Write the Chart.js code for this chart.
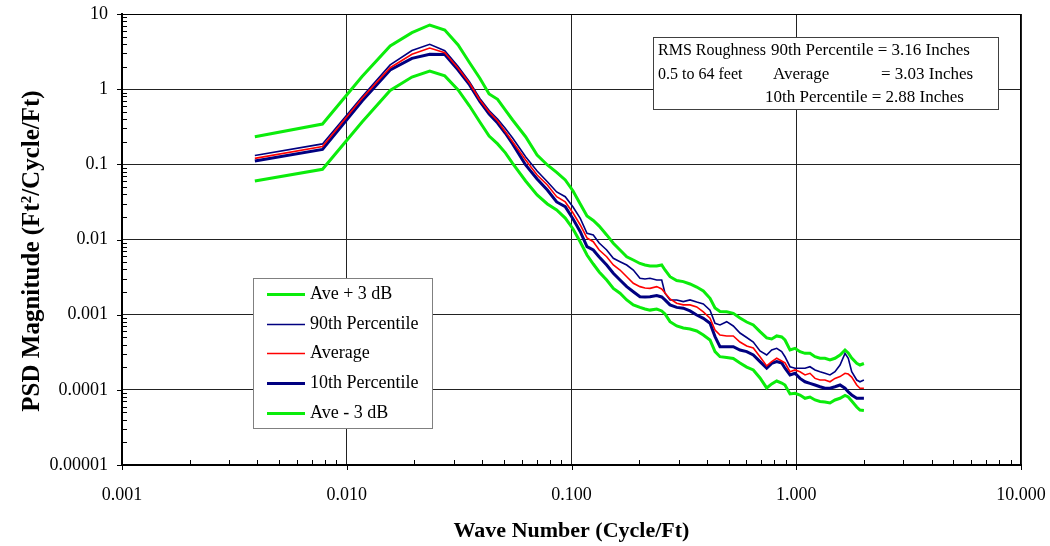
<!DOCTYPE html>
<html>
<head>
<meta charset="utf-8">
<script src="https://cdn.jsdelivr.net/npm/chart.js@4.4.0/dist/chart.umd.min.js"></script>
<style>
  html,body{margin:0;padding:0;background:#fff}
  canvas{display:block}
</style>
</head>
<body>
<canvas id="psd" width="1050" height="546"></canvas>
<script>
// wave number, cycle/ft
const waveNumber = [0.0039,0.0078,0.0117,0.0156,0.0195,0.0234,0.0273,0.0313,0.0352,0.0391,0.0430,0.0469,
  0.0508,0.0547,0.0625,0.0703,0.0781,0.0859,0.0938,0.1016,0.1094,0.1172,0.1250,0.1328,
  0.1434,0.1535,0.1644,0.1761,0.1884,0.2017,0.2123,0.2235,0.2394,0.2520,0.2606,0.2744,
  0.2938,0.3144,0.3368,0.3607,0.3860,0.4134,0.4351,0.4578,0.4903,0.5246,0.5619,0.6019,
  0.6440,0.6898,0.7387,0.7775,0.8185,0.8615,0.8911,0.9380,0.9872,1.039,1.094,1.151,
  1.212,1.276,1.342,1.413,1.487,1.566,1.648,1.704,1.765,1.858,1.921,2.000];

const avePlus3 = [0.233,0.344,1.47,3.75,5.64,7.14,6.12,3.87,2.25,1.40,0.862,0.733,
  0.528,0.389,0.233,0.133,0.098,0.078,0.0619,0.0442,0.0297,0.0206,0.0179,0.0151,
  0.0115,0.00890,0.00725,0.00590,0.00534,0.00480,0.00458,0.00444,0.00444,0.00458,0.00393,0.00320,
  0.00285,0.00275,0.00256,0.00233,0.00207,0.00165,0.00123,0.00110,0.00109,0.00104,0.000903,0.000799,
  0.000729,0.000594,0.000490,0.000475,0.000521,0.000505,0.000460,0.000339,0.000357,0.000322,0.000306,0.000306,
  0.000276,0.000263,0.000263,0.000250,0.000263,0.000291,0.000339,0.000309,0.000265,0.000225,0.000214,0.000224];

const pct90 = [0.131,0.187,0.794,2.10,3.27,3.95,3.25,2.00,1.25,0.751,0.520,0.401,
  0.300,0.224,0.126,0.0815,0.0587,0.0429,0.0371,0.0271,0.0191,0.0121,0.0115,0.00899,
  0.00725,0.00562,0.00507,0.00458,0.00393,0.00305,0.00298,0.00305,0.00289,0.00289,0.00193,0.00157,
  0.00157,0.00149,0.00157,0.00147,0.00139,0.00115,0.000768,0.000729,0.000807,0.000707,0.000570,0.000497,
  0.000433,0.000329,0.000291,0.000339,0.000357,0.000322,0.000276,0.000203,0.000194,0.000194,0.000194,0.000203,
  0.000184,0.000174,0.000166,0.000158,0.000174,0.000214,0.000306,0.000263,0.000174,0.000135,0.000128,0.000135];

const average = [0.120,0.172,0.756,1.93,2.91,3.53,3.06,1.90,1.20,0.718,0.497,0.377,
  0.272,0.200,0.114,0.0722,0.0531,0.0371,0.0316,0.0225,0.0156,0.0105,0.00935,0.00725,
  0.00590,0.00458,0.00393,0.00320,0.00262,0.00236,0.00226,0.00224,0.00236,0.00220,0.00194,0.00162,
  0.00142,0.00135,0.00135,0.00127,0.00109,0.000895,0.000626,0.000537,0.000521,0.000521,0.000433,0.000383,
  0.000360,0.000276,0.000208,0.000237,0.000263,0.000242,0.000228,0.000174,0.000184,0.000174,0.000158,0.000166,
  0.000142,0.000135,0.000135,0.000128,0.000142,0.000150,0.000166,0.000162,0.000148,0.000116,0.000105,0.000105];

const pct10 = [0.111,0.158,0.696,1.80,2.57,2.91,2.89,1.80,1.14,0.685,0.467,0.355,
  0.259,0.187,0.098,0.0638,0.0456,0.0316,0.0273,0.0187,0.0127,0.00802,0.00725,0.00585,
  0.00458,0.00355,0.00289,0.00236,0.00202,0.00173,0.00172,0.00173,0.00180,0.00172,0.00157,0.00135,
  0.00125,0.00122,0.00112,0.00099,0.000895,0.000768,0.000510,0.000375,0.000375,0.000375,0.000339,0.000322,
  0.000291,0.000237,0.000194,0.000225,0.000237,0.000228,0.000194,0.000158,0.000166,0.000142,0.000128,0.000122,
  0.000116,0.000110,0.000105,0.000105,0.000110,0.000116,0.000105,0.0000936,0.0000854,0.0000772,0.0000772,0.0000772];

const aveMinus3 = [0.0600,0.0859,0.366,0.960,1.45,1.74,1.50,0.975,0.597,0.366,0.238,0.187,
  0.142,0.103,0.0600,0.0391,0.0297,0.0247,0.0193,0.0138,0.00927,0.00622,0.00472,0.00370,
  0.00289,0.00224,0.00193,0.00157,0.00135,0.00125,0.00119,0.00115,0.00119,0.00112,0.00102,0.000807,
  0.000707,0.000665,0.000645,0.000607,0.000537,0.000460,0.000322,0.000276,0.000269,0.000261,0.000228,0.000201,
  0.000184,0.000144,0.000106,0.000120,0.000131,0.000123,0.000116,0.0000881,0.0000900,0.0000854,0.0000772,0.0000803,
  0.0000733,0.0000700,0.0000689,0.0000668,0.0000733,0.0000772,0.0000841,0.0000803,0.0000711,0.0000591,0.0000539,0.0000531];

const seriesLabels = ['Ave + 3 dB', '90th Percentile', 'Average', '10th Percentile', 'Ave - 3 dB'];

const xTickValues = [0.001, 0.01, 0.1, 1, 10];
const xTickLabels = ['0.001', '0.010', '0.100', '1.000', '10.000'];
const yTickValues = [0.00001, 0.0001, 0.001, 0.01, 0.1, 1, 10];
const yTickLabels = ['0.00001', '0.0001', '0.001', '0.01', '0.1', '1', '10'];

const noteHead = 'RMS Roughness';
const noteRange = '0.5 to 64 feet';
const note90 = '90th Percentile = 3.16 Inches';
const noteAveName = 'Average';
const noteAveValue = '= 3.03 Inches';
const note10 = '10th Percentile = 2.88 Inches';

const SERIF = '"Liberation Serif", "Times New Roman", serif';
const pts = ys => waveNumber.map((x, i) => ({x, y: ys[i]}));

// legend, note box, y title, tick marks, frame
const decor = {
  id: 'decor',
  afterDraw(chart){
    const {ctx, chartArea: a, scales: {x, y}} = chart;
    ctx.save();
    ctx.strokeStyle = '#000'; ctx.lineWidth = 1;
    ctx.beginPath();
    ctx.moveTo(a.left, a.top + 0.5); ctx.lineTo(a.right - 0.5, a.top + 0.5); ctx.lineTo(a.right - 0.5, a.bottom);
    for (let e = -3; e <= 1; e++){
      const d = Math.pow(10, e);
      const px = Math.round(x.getPixelForValue(d)) + 0.5;
      ctx.moveTo(px, a.bottom); ctx.lineTo(px, a.bottom + 5);
      if (e < 1) for (let m = 2; m < 10; m++){
        const mx = Math.round(x.getPixelForValue(m * d)) + 0.5;
        ctx.moveTo(mx, a.bottom); ctx.lineTo(mx, a.bottom - 5);
      }
    }
    for (let e = -5; e <= 1; e++){
      const d = Math.pow(10, e);
      const py = Math.round(y.getPixelForValue(d)) + 0.5;
      ctx.moveTo(a.left, py); ctx.lineTo(a.left - 5, py);
      if (e < 1) for (let m = 2; m < 10; m++){
        const my = Math.round(y.getPixelForValue(m * d)) + 0.5;
        ctx.moveTo(a.left, my); ctx.lineTo(a.left + 5, my);
      }
    }
    ctx.stroke();

    // y title with a real superscript
    ctx.save();
    ctx.translate(33, 251); ctx.rotate(-Math.PI / 2);
    ctx.fillStyle = '#000'; ctx.textBaseline = 'middle'; ctx.textAlign = 'left';
    const big = 'bold 25px ' + SERIF, small = 'bold 15px ' + SERIF;
    const p1 = 'PSD Magnitude (Ft', p2 = '2', p3 = '/Cycle/Ft)';
    ctx.font = big; const w1 = ctx.measureText(p1).width, w3 = ctx.measureText(p3).width;
    ctx.font = small; const w2 = ctx.measureText(p2).width;
    let tx = -(w1 + w2 + w3) / 2;
    ctx.font = big; ctx.fillText(p1, tx, 0); tx += w1;
    ctx.font = small; ctx.fillText(p2, tx, -6); tx += w2;
    ctx.font = big; ctx.fillText(p3, tx, 0);
    ctx.restore();

    // note box
    ctx.fillStyle = '#fff'; ctx.fillRect(653, 37, 345, 72);
    ctx.strokeStyle = '#404040'; ctx.lineWidth = 1; ctx.strokeRect(653.5, 37.5, 345, 72);
    ctx.fillStyle = '#000'; ctx.textBaseline = 'middle'; ctx.textAlign = 'left';
    ctx.font = '16px ' + SERIF;
    ctx.fillText(noteHead, 658, 51);
    ctx.fillText(noteRange, 658, 75);
    ctx.font = '17px ' + SERIF;
    ctx.fillText(note90, 771, 51);
    ctx.fillText(noteAveName, 773, 75);
    ctx.fillText(noteAveValue, 881, 75);
    ctx.fillText(note10, 765, 98);

    // legend
    ctx.fillStyle = '#fff'; ctx.fillRect(253, 278, 179, 150);
    ctx.strokeStyle = '#808080'; ctx.lineWidth = 1; ctx.strokeRect(253.5, 278.5, 179, 150);
    ctx.font = '18px ' + SERIF;
    chart.data.datasets.forEach((ds, i) => {
      const ry = Math.round(294 + i * 29.7) + 0.5;
      ctx.strokeStyle = ds.borderColor; ctx.lineWidth = ds.borderWidth;
      ctx.beginPath(); ctx.moveTo(267, ry); ctx.lineTo(305, ry); ctx.stroke();
      ctx.fillStyle = '#000'; ctx.fillText(ds.label, 310, ry);
    });
    ctx.restore();
  }
};

const green = '#0bec0b', navy = '#000080', red = '#ff0000';

new Chart(document.getElementById('psd'), {
  type: 'line',
  data: {
    datasets: [
      {label: seriesLabels[0], data: pts(avePlus3), borderColor: green, borderWidth: 3, order: 3},
      {label: seriesLabels[1], data: pts(pct90), borderColor: navy, borderWidth: 1.6, order: 1},
      {label: seriesLabels[2], data: pts(average), borderColor: red, borderWidth: 1.6, order: 0},
      {label: seriesLabels[3], data: pts(pct10), borderColor: navy, borderWidth: 3, order: 2},
      {label: seriesLabels[4], data: pts(aveMinus3), borderColor: green, borderWidth: 3, order: 4}
    ]
  },
  options: {
    responsive: false,
    animation: false,
    devicePixelRatio: 1,
    layout: {padding: {top: 14, right: 29, bottom: 0, left: 0}},
    elements: {point: {radius: 0}, line: {tension: 0, fill: false}},
    plugins: {legend: {display: false}, tooltip: {enabled: false}},
    scales: {
      x: {
        type: 'logarithmic', min: 0.001, max: 10,
        afterFit(s){ s.height = 81; s.paddingLeft = 0; s.paddingRight = 0; },
        afterBuildTicks(s){ s.ticks = xTickValues.map(v => ({value: v})); },
        ticks: {autoSkip: false, maxRotation: 0, padding: 19, color: '#000',
          font: {family: SERIF, size: 18},
          callback: (v, i) => xTickLabels[i]},
        grid: {color: '#222', lineWidth: 1, drawTicks: false},
        border: {display: true, color: '#000', width: 2},
        title: {display: true, text: 'Wave Number (Cycle/Ft)', color: '#000',
          font: {family: SERIF, size: 22, weight: 'bold'}, padding: {top: 0, bottom: 1}}
      },
      y: {
        type: 'logarithmic', min: 0.00001, max: 10,
        afterFit(s){ s.width = 122; s.paddingTop = 0; s.paddingBottom = 0; },
        afterBuildTicks(s){ s.ticks = yTickValues.map(v => ({value: v})); },
        ticks: {autoSkip: false, padding: 14, color: '#000',
          font: {family: SERIF, size: 18},
          callback: (v, i) => yTickLabels[i]},
        grid: {color: '#222', lineWidth: 1, drawTicks: false},
        border: {display: true, color: '#000', width: 2},
        title: {display: false}
      }
    }
  },
  plugins: [decor]
});
</script>
</body>
</html>
